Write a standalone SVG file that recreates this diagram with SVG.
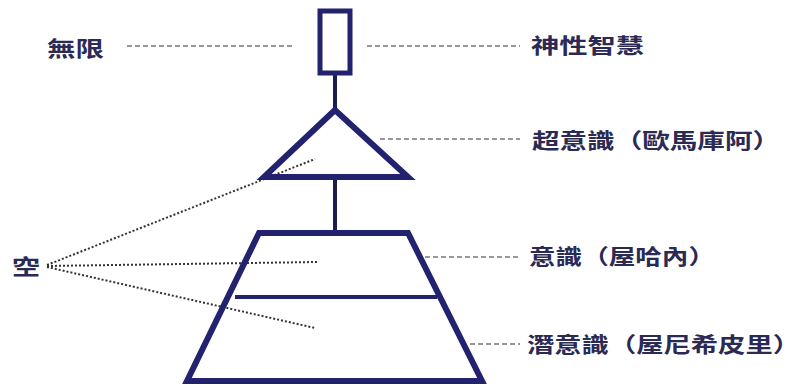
<svg xmlns="http://www.w3.org/2000/svg" width="803" height="390" viewBox="0 0 803 390">
<style>
.shape{fill:none;stroke:#22226e;stroke-linejoin:miter}
.stem{stroke:#1c1c50;stroke-width:4}
.dash{stroke:#333;stroke-width:1.2;stroke-dasharray:5 3;fill:none}
.dot{stroke:#333;stroke-width:2;stroke-dasharray:2 2;fill:none}
.lbl{font-family:"Noto Sans CJK TC","Noto Sans CJK SC",sans-serif;font-size:21px;font-weight:bold;fill:#2a2a55}
</style>
<rect width="803" height="390" fill="#fff"/>
<g id="connectors">
<line class="stem" x1="335" y1="75" x2="335" y2="108"/>
<line class="stem" x1="335" y1="180" x2="335" y2="232"/>
<line class="dash" x1="127" y1="46" x2="295" y2="46"/>
<line class="dash" x1="367" y1="46" x2="520" y2="46"/>
<line class="dash" x1="380" y1="139" x2="520" y2="139"/>
<line class="dash" x1="425" y1="257" x2="520" y2="257"/>
<line class="dash" x1="470" y1="344" x2="520" y2="344"/>
<line class="dot" x1="47" y1="265" x2="315" y2="159"/>
<line class="dot" x1="47" y1="266" x2="317" y2="262"/>
<line class="dot" x1="47" y1="267" x2="315" y2="328"/>
</g>
<g id="infinite">
<rect class="shape" x="320" y="11" width="30" height="62" stroke-width="5"/>
</g>
<g id="superconscious">
<polygon class="shape" points="335,110 264,177 408,177" stroke-width="6"/>
</g>
<g id="conscious">
<polygon class="shape" points="259,233 408,233 482,381 187,381" stroke-width="6"/>
<line class="shape" x1="235" y1="297" x2="437" y2="297" stroke-width="4"/>
</g>
<g id="labels">
<text class="lbl" x="47" y="56" textLength="57" lengthAdjust="spacingAndGlyphs">無限</text>
<text class="lbl" x="531" y="53" textLength="113" lengthAdjust="spacingAndGlyphs">神性智慧</text>
<text class="lbl" x="532" y="148" textLength="248" lengthAdjust="spacingAndGlyphs">超意識（歐馬庫阿）</text>
<text class="lbl" x="529" y="264" textLength="186" lengthAdjust="spacingAndGlyphs">意識（屋哈內）</text>
<text class="lbl" x="527" y="352" textLength="273" lengthAdjust="spacingAndGlyphs">潛意識（屋尼希皮里）</text>
<text class="lbl" x="12" y="274" textLength="28" lengthAdjust="spacingAndGlyphs">空</text>
</g>
</svg>
